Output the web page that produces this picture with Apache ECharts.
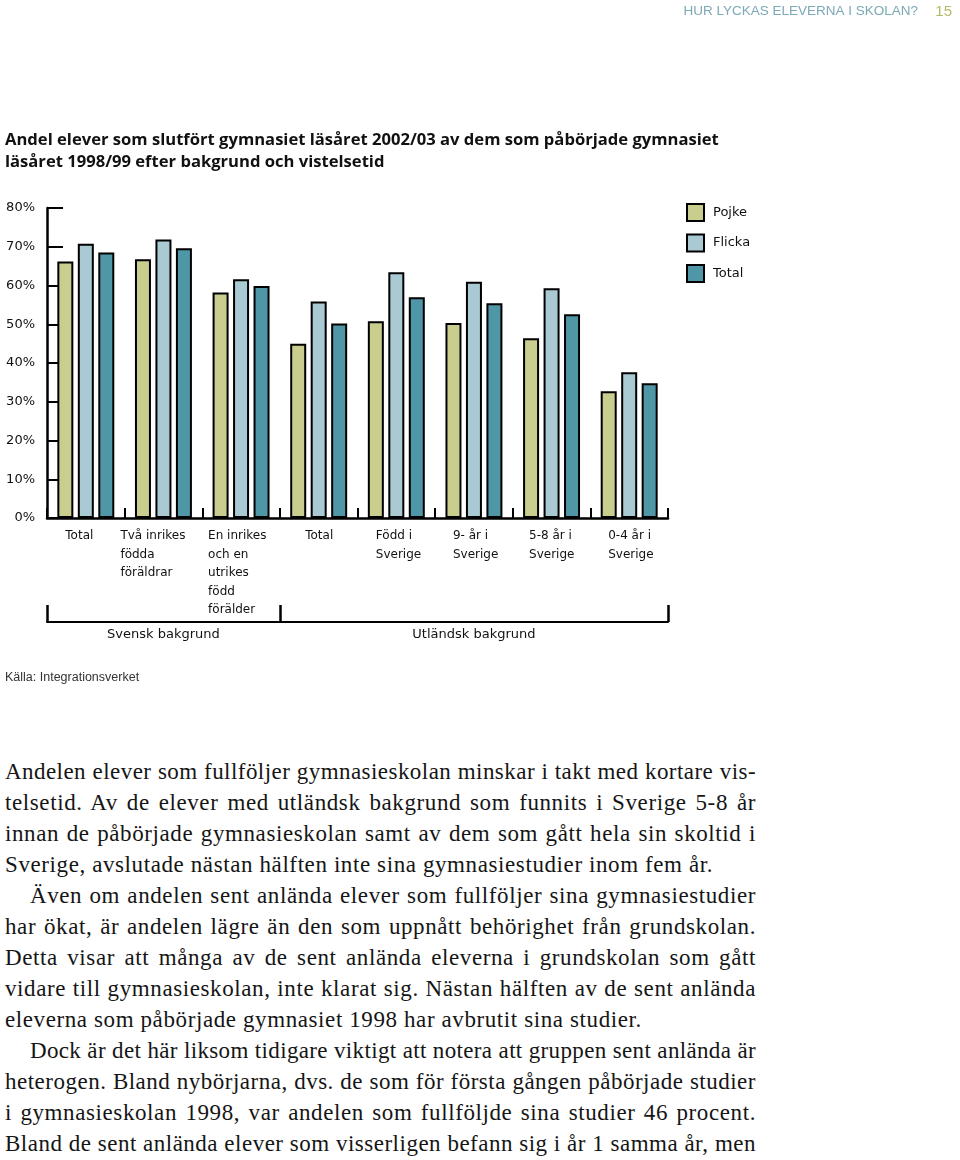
<!DOCTYPE html>
<html>
<head>
<meta charset="utf-8">
<script src="https://cdn.jsdelivr.net/npm/echarts@6/dist/echarts.min.js"></script>
<style>
  html, body { margin: 0; padding: 0; background: #fff; }
  #chart { position: absolute; left: 0; top: 0; width: 960px; height: 720px; }
  #text { position: absolute; left: 5px; top: 756px; width: 751px;
          font-family: "Liberation Serif", "DejaVu Serif", serif; font-size: 23px;
          line-height: 31px; color: #151515; }
  #text div { letter-spacing: 0.6px; white-space: nowrap; overflow: visible; }
  #text .j { text-align: justify; text-align-last: justify; }
  #text .l { text-align: left; }
  #text .ind { padding-left: 25px; }
</style>
</head>
<body>
<div id="chart"></div>
<div id="text"></div>
<script>
// ---- data ----
const categories = [
  'Total',
  'Två inrikes\nfödda\nföräldrar',
  'En inrikes\noch en\nutrikes\nfödd\nförälder',
  'Total',
  'Född i\nSverige',
  '9- år i\nSverige',
  '5-8 år i\nSverige',
  '0-4 år i\nSverige'
];
const seriesNames = ['Pojke', 'Flicka', 'Total'];
const pojke  = [66.2, 66.8, 58.2, 45.0, 50.8, 50.3, 46.4, 32.7];
const flicka = [70.8, 71.9, 61.6, 55.9, 63.4, 61.0, 59.3, 37.6];
const total  = [68.5, 69.6, 59.9, 50.2, 57.0, 55.4, 52.6, 34.8];
const yTicks = [0, 10, 20, 30, 40, 50, 60, 70, 80];
const groupNames = ['Svensk bakgrund', 'Utländsk bakgrund'];
const groupBounds = [0, 3, 8];
const groupCenters = [1.5, 5.5];

const titleText = 'Andel elever som slutfört gymnasiet läsåret 2002/03 av dem som påbörjade gymnasiet\nläsåret 1998/99 efter bakgrund och vistelsetid';
const headerText = 'HUR LYCKAS ELEVERNA I SKOLAN?';
const pageNumber = '15';
const sourceText = 'Källa: Integrationsverket';

const bodyLines = [
  ['j', 'Andelen elever som fullföljer gymnasieskolan minskar i takt med kortare vis-'],
  ['j', 'telsetid. Av de elever med utländsk bakgrund som funnits i Sverige 5-8 år'],
  ['j', 'innan de påbörjade gymnasieskolan samt av dem som gått hela sin skoltid i'],
  ['l', 'Sverige, avslutade nästan hälften inte sina gymnasiestudier inom fem år.'],
  ['j ind', 'Även om andelen sent anlända elever som fullföljer sina gymnasiestudier'],
  ['j', 'har ökat, är andelen lägre än den som uppnått behörighet från grundskolan.'],
  ['j', 'Detta visar att många av de sent anlända eleverna i grundskolan som gått'],
  ['j', 'vidare till gymnasieskolan, inte klarat sig. Nästan hälften av de sent anlända'],
  ['l', 'eleverna som påbörjade gymnasiet 1998 har avbrutit sina studier.'],
  ['j ind', 'Dock är det här liksom tidigare viktigt att notera att gruppen sent anlända är'],
  ['j', 'heterogen. Bland nybörjarna, dvs. de som för första gången påbörjade studier'],
  ['j', 'i gymnasieskolan 1998, var andelen som fullföljde sina studier 46 procent.'],
  ['j', 'Bland de sent anlända elever som visserligen befann sig i år 1 samma år, men']
];

// ---- body text ----
const textDiv = document.getElementById('text');
bodyLines.forEach(([cls, s]) => {
  const d = document.createElement('div');
  d.className = cls;
  d.textContent = s;
  textDiv.appendChild(d);
  // tighten letter spacing of lines whose natural width exceeds the column
  let ls = 0.6;
  while (d.scrollWidth > d.clientWidth && ls > -1) {
    ls -= 0.05;
    d.style.letterSpacing = ls.toFixed(2) + 'px';
  }
});

// ---- chart ----
const colors = ['#c9ce8e', '#a9c9d3', '#4f97a7'];
const labelFont = '"DejaVu Sans", Verdana, sans-serif';
// widths of label blocks (left-aligned lines inside a centered block)
const labelBlockW = [41, 86, 66, 27, 41, 42, 45, 42];
const rich = {};
labelBlockW.forEach((w, i) => {
  rich['l' + i] = { width: w, align: 'left', fontFamily: labelFont, fontSize: 12, color: '#111', lineHeight: 18.5 };
});

const chart = echarts.init(document.getElementById('chart'), null, { renderer: 'canvas' });
const mkSeries = (name, data, i) => ({
  name, type: 'bar', data,
  barWidth: 16, barGap: '28%',
  itemStyle: { color: colors[i], borderColor: '#000', borderWidth: 2 },
  emphasis: { disabled: true },
  animation: false
});

chart.setOption({
  animation: false,
  title: [
    { text: titleText, left: 5, top: 129, padding: 0,
      textStyle: { fontFamily: '"Open Sans", "Noto Sans", sans-serif', fontWeight: 'bold', fontSize: 16.6, lineHeight: 22, color: '#111' } },
    { text: headerText, right: 42, top: 4, padding: 0,
      textStyle: { fontFamily: '"Liberation Sans", sans-serif', fontWeight: 'normal', fontSize: 13.5, color: '#7ca9b6' } },
    { text: pageNumber, right: 8, top: 4, padding: 0,
      textStyle: { fontFamily: '"Liberation Sans", sans-serif', fontWeight: 'normal', fontSize: 15, color: '#b4b96a' } },
    { text: sourceText, left: 5, top: 671, padding: 0,
      textStyle: { fontFamily: '"Liberation Sans", sans-serif', fontWeight: 'normal', fontSize: 12.5, color: '#333' } }
  ],
  legend: {
    data: seriesNames, orient: 'vertical', left: 686, top: 203, padding: 0,
    itemWidth: 17, itemHeight: 17, itemGap: 11.5, icon: 'rect',
    textStyle: { fontFamily: labelFont, fontSize: 13, color: '#111', padding: [0, 0, 0, 4] }
  },
  grid: { left: 47, right: 292, top: 208, bottom: 202, containLabel: false },
  xAxis: [
    {
      type: 'category', data: categories, position: 'bottom',
      axisLine: { lineStyle: { color: '#000', width: 2.5 } },
      axisTick: { show: true, inside: true, length: 10, alignWithLabel: false, interval: 0, lineStyle: { color: '#000', width: 2 } },
      axisLabel: {
        interval: 0, margin: 9, align: 'center', verticalAlign: 'top',
        formatter: (v, idx) => v.split('\n').map(s => '{l' + idx + '|' + s + '}').join('\n'),
        rich
      },
      splitLine: { show: false }
    },
    {
      type: 'value', min: 0, max: 8, position: 'bottom', offset: 104,
      axisLine: { show: true, onZero: false, lineStyle: { color: '#000', width: 2 } },
      axisTick: { show: true, inside: true, length: 17, customValues: groupBounds, lineStyle: { color: '#000', width: 2.5 } },
      axisLabel: {
        show: true, margin: 6, customValues: groupCenters,
        formatter: (v) => groupNames[groupCenters.indexOf(v)] || '',
        fontFamily: labelFont, fontSize: 13, color: '#111'
      },
      splitLine: { show: false }
    }
  ],
  yAxis: {
    type: 'value', min: 0, max: 80, interval: 10,
    axisLine: { show: true, lineStyle: { color: '#000', width: 2.5 } },
    axisTick: { show: true, inside: true, length: 16, lineStyle: { color: '#000', width: 2 } },
    axisLabel: { margin: 12, formatter: (v) => yTicks.includes(v) ? v + '%' : '', fontFamily: labelFont, fontSize: 13, color: '#111' },
    splitLine: { show: false }
  },
  series: [
    mkSeries(seriesNames[0], pojke, 0),
    mkSeries(seriesNames[1], flicka, 1),
    mkSeries(seriesNames[2], total, 2)
  ]
});
</script>
</body>
</html>
